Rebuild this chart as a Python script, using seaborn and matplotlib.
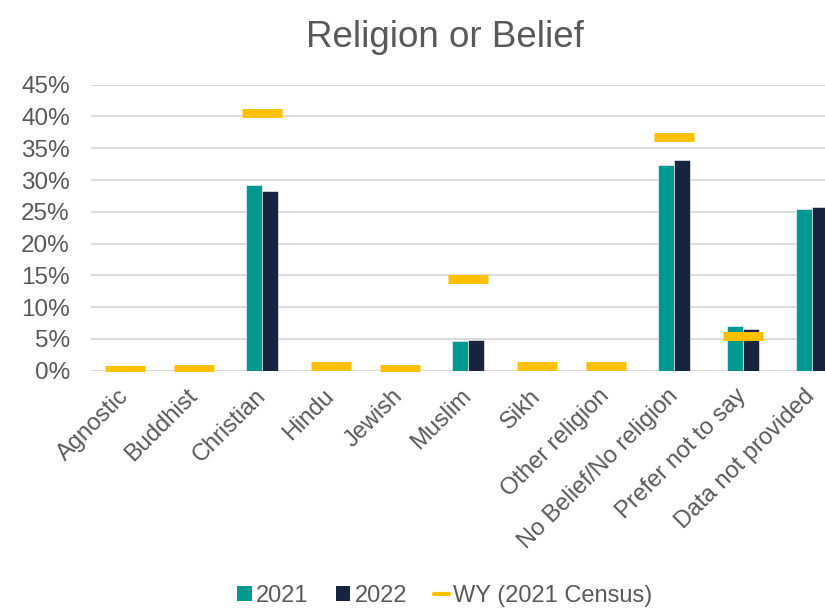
import matplotlib
matplotlib.use("Agg")
import matplotlib.pyplot as plt
import seaborn as sns
import pandas as pd
import numpy as np
from matplotlib.patches import Patch
from matplotlib.lines import Line2D
from matplotlib.ticker import PercentFormatter, MultipleLocator

categories = ["Agnostic", "Buddhist", "Christian", "Hindu", "Jewish", "Muslim",
              "Sikh", "Other religion", "No Belief/No religion",
              "Prefer not to say", "Data not provided"]
values_2021 = [0.0, 0.0, 29.2, 0.0, 0.0, 4.7, 0.0, 0.0, 32.3, 7.0, 25.4]
values_2022 = [0.0, 0.0, 28.2, 0.0, 0.0, 4.9, 0.0, 0.0, 33.1, 6.6, 25.8]
wy_census = [0.1, 0.3, 40.6, 0.8, 0.3, 14.5, 0.8, 0.8, 36.7, 5.5, np.nan]
years = ["2021", "2022"]

TEAL = "#00998F"
NAVY = "#17233F"
YELLOW = "#FFC000"
TEXT = "#595959"
GRID = "#D9D9D9"

sns.set_theme(style="white")
plt.rcParams["font.family"] = ["Liberation Sans", "DejaVu Sans"]

df = pd.DataFrame({
    "category": categories * 2,
    "year": [years[0]] * len(categories) + [years[1]] * len(categories),
    "value": values_2021 + values_2022,
})
df_wy = pd.DataFrame({"category": categories, "wy": wy_census})

fig = plt.figure(figsize=(8.25, 6.08), dpi=100)
ax = fig.add_axes([90.7 / 825, 1 - 370.7 / 608, (846 - 90.7) / 825, (370.7 - 84.7) / 608])

sns.barplot(data=df, x="category", y="value", hue="year", order=categories,
            hue_order=years, palette=[TEAL, NAVY], saturation=1, width=0.47,
            dodge=True, edgecolor="white", linewidth=0.4, ax=ax, legend=False,
            zorder=3)
sns.pointplot(data=df_wy, x="category", y="wy", order=categories, color=YELLOW,
              markers="_", linestyles="none", errorbar=None, ax=ax,
              markersize=29.5, markeredgewidth=6.5)
for ln in ax.lines:
    ln.set_zorder(4)

ax.set_ylim(0, 45)
ax.set_xlim(-0.5, len(categories) - 0.5)
ax.yaxis.set_major_locator(MultipleLocator(5))
ax.yaxis.set_major_formatter(PercentFormatter(decimals=0))
ax.grid(axis="y", color=GRID, linewidth=1.3, zorder=0)
ax.set_axisbelow(True)
for s in ax.spines.values():
    s.set_visible(False)
ax.set_xlabel("")
ax.set_ylabel("")
ax.tick_params(axis="y", length=0, pad=15, labelsize=17.5, labelcolor=TEXT)
ax.tick_params(axis="x", length=0, pad=16, labelsize=17, labelcolor=TEXT)
for lab in ax.get_xticklabels():
    lab.set_rotation(45)
    lab.set_ha("right")
    lab.set_va("center")
    lab.set_rotation_mode("anchor")

fig.text(445 / 825, 1 - 47 / 608, "Religion or Belief", ha="center", va="baseline",
         fontsize=26.5, color=TEXT)

handles = [Patch(facecolor=TEAL, edgecolor="none"),
           Patch(facecolor=NAVY, edgecolor="none"),
           Line2D([0], [0], color=YELLOW, lw=3)]
fig.legend(handles, ["2021", "2022", "WY (2021 Census)"], loc="center",
           bbox_to_anchor=(445 / 825, 1 - 596 / 608), ncol=3, frameon=False,
           fontsize=17, labelcolor=TEXT, handlelength=0.6, handleheight=0.6,
           handletextpad=0.2, columnspacing=1.15, borderaxespad=0)

fig.savefig("out.png", dpi=100)
